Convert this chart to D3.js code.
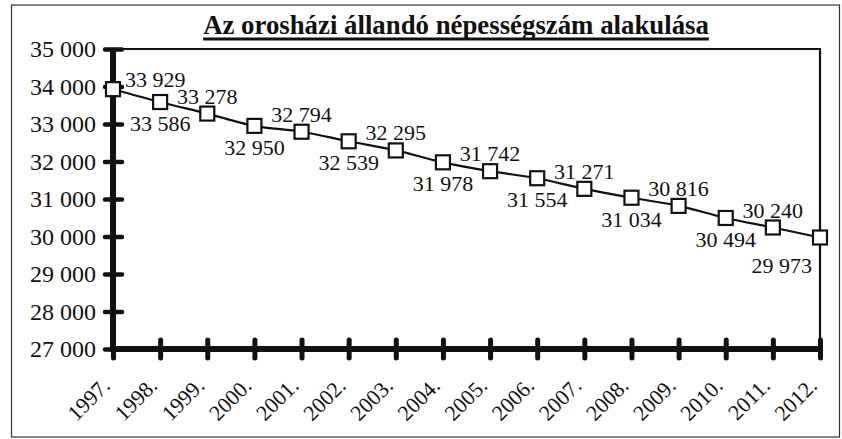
<!DOCTYPE html>
<html>
<head>
<meta charset="utf-8">
<script src="https://cdn.jsdelivr.net/npm/d3@7"></script>
<style>
  body { margin: 0; background: #fff; }
  text { font-family: "Liberation Serif", "Times New Roman", serif; fill: #111; }
</style>
</head>
<body>
<div class="container"></div>
<script>
var years = ["1997.", "1998.", "1999.", "2000.", "2001.", "2002.", "2003.", "2004.",
  "2005.", "2006.", "2007.", "2008.", "2009.", "2010.", "2011.", "2012."];
var population = [33929, 33586, 33278, 32950, 32794, 32539, 32295, 31978,
  31742, 31554, 31271, 31034, 30816, 30494, 30240, 29973];
var yTicks = [27000, 28000, 29000, 30000, 31000, 32000, 33000, 34000, 35000];
var title = "Az orosházi állandó népességszám alakulása";

var width = 842,
  height = 439,
  plotL = 113, plotR = 820, plotT = 49, plotB = 349;

// hungarian style thousands: "33 929"
var fmt = function (v) { return d3.format(",")(v).replace(/,/g, " "); };

var svg = d3.select(".container").append("svg")
  .attr("width", width)
  .attr("height", height);

// outer frame of the scanned chart
svg.append("rect")
  .attr("x", 11.5).attr("y", 5)
  .attr("width", 828).attr("height", 432)
  .attr("fill", "none")
  .attr("stroke", "#333")
  .attr("stroke-width", 1.2);

var x = d3.scalePoint()
  .domain(years)
  .range([plotL, plotR]);

var y = d3.scaleLinear()
  .domain([27000, 35000])
  .range([plotB, plotT]);

// plot area border (top + right, thin)
svg.append("path")
  .attr("d", "M" + plotL + "," + plotT + "H" + plotR + "V" + plotB)
  .attr("fill", "none")
  .attr("stroke", "#111")
  .attr("stroke-width", 2.2);

// title
var tx = 456;
var t = svg.append("text")
  .attr("x", tx)
  .attr("y", 34)
  .attr("text-anchor", "middle")
  .style("font-size", "26.8px")
  .style("font-weight", "bold")
  .text(title);
var tl = t.node().getComputedTextLength();
svg.append("line")
  .attr("x1", tx - tl / 2).attr("x2", tx + tl / 2)
  .attr("y1", 39).attr("y2", 39)
  .attr("stroke", "#111")
  .attr("stroke-width", 2.8);

// y axis
var yAxis = d3.axisLeft(y)
  .tickValues(yTicks)
  .tickSize(0)
  .tickPadding(17)
  .tickFormat(fmt);
var gy = svg.append("g")
  .attr("transform", "translate(" + plotL + ",0)")
  .call(yAxis);
gy.select(".domain").remove();
gy.selectAll("text").style("font-size", "24px").attr("fill", "#111");
gy.selectAll(".tick").append("line")
  .attr("x1", -8).attr("x2", 9)
  .attr("stroke", "#111")
  .attr("stroke-width", 4.5)
  .attr("stroke-linecap", "round");

// x axis
var xAxis = d3.axisBottom(x).tickSize(0).tickPadding(0);
var gx = svg.append("g")
  .attr("transform", "translate(0," + plotB + ")")
  .call(xAxis);
gx.select(".domain").remove();
gx.selectAll(".tick").append("line")
  .attr("y1", -9).attr("y2", 9)
  .attr("stroke", "#111")
  .attr("stroke-width", 5)
  .attr("stroke-linecap", "round");
gx.selectAll("text")
  .style("font-size", "22px")
  .attr("fill", "#111")
  .attr("text-anchor", "end")
  .attr("y", 0)
  .attr("dy", null)
  .attr("transform", "translate(-2,38) rotate(-45)");

// thick axis lines
svg.append("path")
  .attr("d", "M" + plotL + "," + plotT + "V" + plotB + "H" + plotR)
  .attr("fill", "none")
  .attr("stroke", "#111")
  .attr("stroke-width", 6);

// series line
var line = d3.line()
  .x(function (d, i) { return x(years[i]); })
  .y(function (d) { return y(d); })
  .curve(d3.curveMonotoneX);

svg.append("path")
  .datum(population)
  .attr("d", line)
  .attr("fill", "none")
  .attr("stroke", "#111")
  .attr("stroke-width", 2.2);

// markers
var s = 14;
svg.selectAll("rect.point")
  .data(population)
  .enter().append("rect")
  .attr("class", "point")
  .attr("x", function (d, i) { return x(years[i]) - s / 2; })
  .attr("y", function (d) { return y(d) - s / 2; })
  .attr("width", s).attr("height", s)
  .attr("fill", "#fff")
  .attr("stroke", "#111")
  .attr("stroke-width", 2.2);

// data labels, alternating above / below; first one sits beside its marker
var labels = svg.selectAll("text.lbl")
  .data(population)
  .enter().append("text")
  .attr("class", "lbl")
  .attr("text-anchor", "middle")
  .style("font-size", "22px")
  .text(fmt);
labels.each(function (d, i) {
  var w = this.getComputedTextLength();
  var cx = x(years[i]);
  var lx = Math.max(plotL + 12 + w / 2, Math.min(plotR - 8 - w / 2, cx));
  var ly = i % 2 === 0 ? y(d) - 10 : y(d) + 29;
  if (i === 0) ly = y(d) - 2;
  if (i === population.length - 1) ly = y(d) + 35;
  d3.select(this).attr("x", lx).attr("y", ly);
});
</script>
</body>
</html>
